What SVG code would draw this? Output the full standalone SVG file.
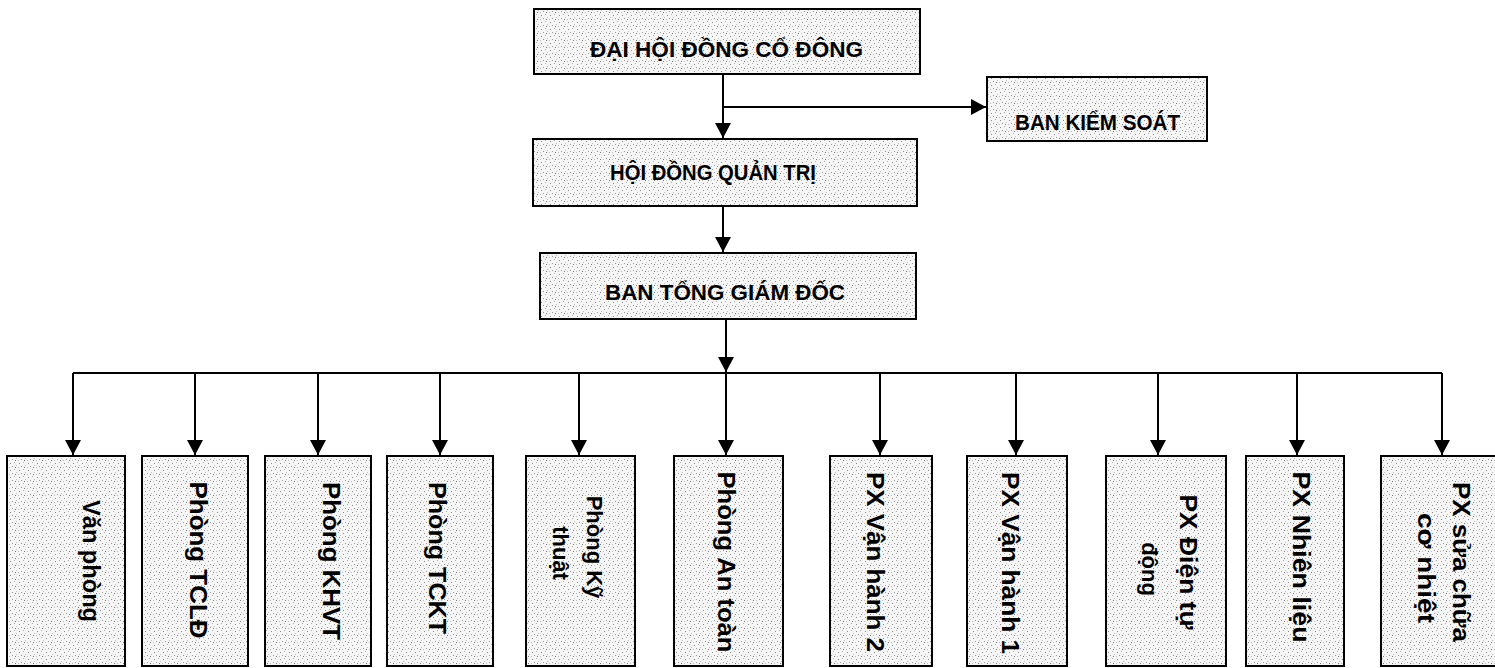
<svg xmlns="http://www.w3.org/2000/svg" width="1495" height="668" viewBox="0 0 1495 668">
<style>
.box{stroke:#000;stroke-width:2;fill:url(#speck)}
.t{font-family:"Liberation Sans",Arial,sans-serif;font-weight:bold;fill:#000}
.top{font-size:22px;text-anchor:start}
.v{font-size:23px;text-anchor:middle}
.s{font-size:22px}
.c{stroke:#000;stroke-width:2;fill:none}
</style>
<defs>
<pattern id="speck" width="9" height="7" patternUnits="userSpaceOnUse">
<rect width="9" height="7" fill="#f6f6f6"/>
<rect x="1" y="1" width="1" height="1" fill="#8a8a8a"/>
<rect x="5" y="0" width="1" height="1" fill="#b0b0b0"/>
<rect x="3" y="4" width="1" height="1" fill="#999"/>
<rect x="7" y="3" width="1" height="1" fill="#c0c0c0"/>
<rect x="6" y="5" width="1" height="1" fill="#777"/>
<rect x="0" y="5" width="1" height="1" fill="#bbb"/>
</pattern>
<marker id="ah" markerWidth="16" markerHeight="16" refX="15" refY="8" orient="auto" markerUnits="userSpaceOnUse">
<path d="M0,0 L15,8 L0,16 Z" fill="#000"/>
</marker>
</defs>
<rect width="1495" height="668" fill="#fff"/>

<g id="connectors">
<path class="c" d="M723,74 V138" marker-end="url(#ah)"/>
<path class="c" d="M723,107 H986" marker-end="url(#ah)"/>
<path class="c" d="M723,206 V252" marker-end="url(#ah)"/>
<path class="c" d="M726,319 V372" marker-end="url(#ah)"/>
<path class="c" d="M73,373 H1442"/>
<path class="c" d="M73,373 V455" marker-end="url(#ah)"/>
<path class="c" d="M195,373 V455" marker-end="url(#ah)"/>
<path class="c" d="M318,373 V455" marker-end="url(#ah)"/>
<path class="c" d="M440,373 V455" marker-end="url(#ah)"/>
<path class="c" d="M579,373 V455" marker-end="url(#ah)"/>
<path class="c" d="M726,373 V455" marker-end="url(#ah)"/>
<path class="c" d="M880,373 V455" marker-end="url(#ah)"/>
<path class="c" d="M1016,373 V455" marker-end="url(#ah)"/>
<path class="c" d="M1158,373 V455" marker-end="url(#ah)"/>
<path class="c" d="M1297,373 V455" marker-end="url(#ah)"/>
<path class="c" d="M1442,373 V455" marker-end="url(#ah)"/>
</g>

<g id="dhdcd">
<rect class="box" x="534" y="9" width="386" height="65"/>
<text class="t top" x="590" y="57" textLength="273" lengthAdjust="spacingAndGlyphs">ĐẠI HỘI ĐỒNG CỔ ĐÔNG</text>
</g>
<g id="bks">
<rect class="box" x="987" y="77" width="220" height="64"/>
<text class="t top" x="1015" y="130" textLength="165" lengthAdjust="spacingAndGlyphs">BAN KIỂM SOÁT</text>
</g>
<g id="hdqt">
<rect class="box" x="533" y="139" width="384" height="67"/>
<text class="t top" x="610" y="180" textLength="206" lengthAdjust="spacingAndGlyphs">HỘI ĐỒNG QUẢN TRỊ</text>
</g>
<g id="btgd">
<rect class="box" x="540" y="253" width="376" height="66"/>
<text class="t top" x="605" y="300" textLength="240" lengthAdjust="spacingAndGlyphs">BAN TỔNG GIÁM ĐỐC</text>
</g>

<g id="van-phong">
<rect class="box" x="7" y="456" width="118" height="210"/>
<text class="t v" transform="translate(83,561) rotate(90)" textLength="122" lengthAdjust="spacingAndGlyphs">Văn phòng</text>
</g>
<g id="phong-tcld">
<rect class="box" x="142" y="456" width="106" height="210"/>
<text class="t v" transform="translate(190,560) rotate(90)" textLength="157" lengthAdjust="spacingAndGlyphs">Phòng TCLĐ</text>
</g>
<g id="phong-khvt">
<rect class="box" x="265" y="456" width="106" height="210"/>
<text class="t v" transform="translate(323,561) rotate(90)" textLength="158" lengthAdjust="spacingAndGlyphs">Phòng KHVT</text>
</g>
<g id="phong-tckt">
<rect class="box" x="387" y="456" width="106" height="210"/>
<text class="t v" transform="translate(429,558) rotate(90)" textLength="152" lengthAdjust="spacingAndGlyphs">Phòng TCKT</text>
</g>
<g id="phong-ky-thuat">
<rect class="box" x="526" y="456" width="109" height="210"/>
<text class="t v s" transform="translate(587,547) rotate(90)">Phòng Kỹ</text>
<text class="t v s" transform="translate(553,553) rotate(90)">thuật</text>
</g>
<g id="phong-an-toan">
<rect class="box" x="674" y="456" width="109" height="210"/>
<text class="t v" transform="translate(718,562) rotate(90)" textLength="181" lengthAdjust="spacingAndGlyphs">Phòng An toàn</text>
</g>
<g id="px-van-hanh-2">
<rect class="box" x="830" y="456" width="102" height="210"/>
<text class="t v" transform="translate(867,562) rotate(90)" textLength="180" lengthAdjust="spacingAndGlyphs">PX Vận hành 2</text>
</g>
<g id="px-van-hanh-1">
<rect class="box" x="967" y="456" width="100" height="210"/>
<text class="t v" transform="translate(1002,563) rotate(90)" textLength="182" lengthAdjust="spacingAndGlyphs">PX Vận hành 1</text>
</g>
<g id="px-dien-tu-dong">
<rect class="box" x="1106" y="456" width="120" height="210"/>
<text class="t v" transform="translate(1180,562) rotate(90)" textLength="135" lengthAdjust="spacingAndGlyphs">PX Điện tự</text>
<text class="t v s" transform="translate(1142,569) rotate(90)">động</text>
</g>
<g id="px-nhien-lieu">
<rect class="box" x="1246" y="456" width="98" height="210"/>
<text class="t v" transform="translate(1293,557) rotate(90)" textLength="171" lengthAdjust="spacingAndGlyphs">PX Nhiên liệu</text>
</g>
<g id="px-sua-chua">
<rect class="box" x="1381" y="456" width="120" height="210"/>
<text class="t v" transform="translate(1453,562) rotate(90)" textLength="160" lengthAdjust="spacingAndGlyphs">PX sửa chữa</text>
<text class="t v" transform="translate(1418,568) rotate(90)" textLength="110" lengthAdjust="spacingAndGlyphs">cơ nhiệt</text>
</g>
</svg>
